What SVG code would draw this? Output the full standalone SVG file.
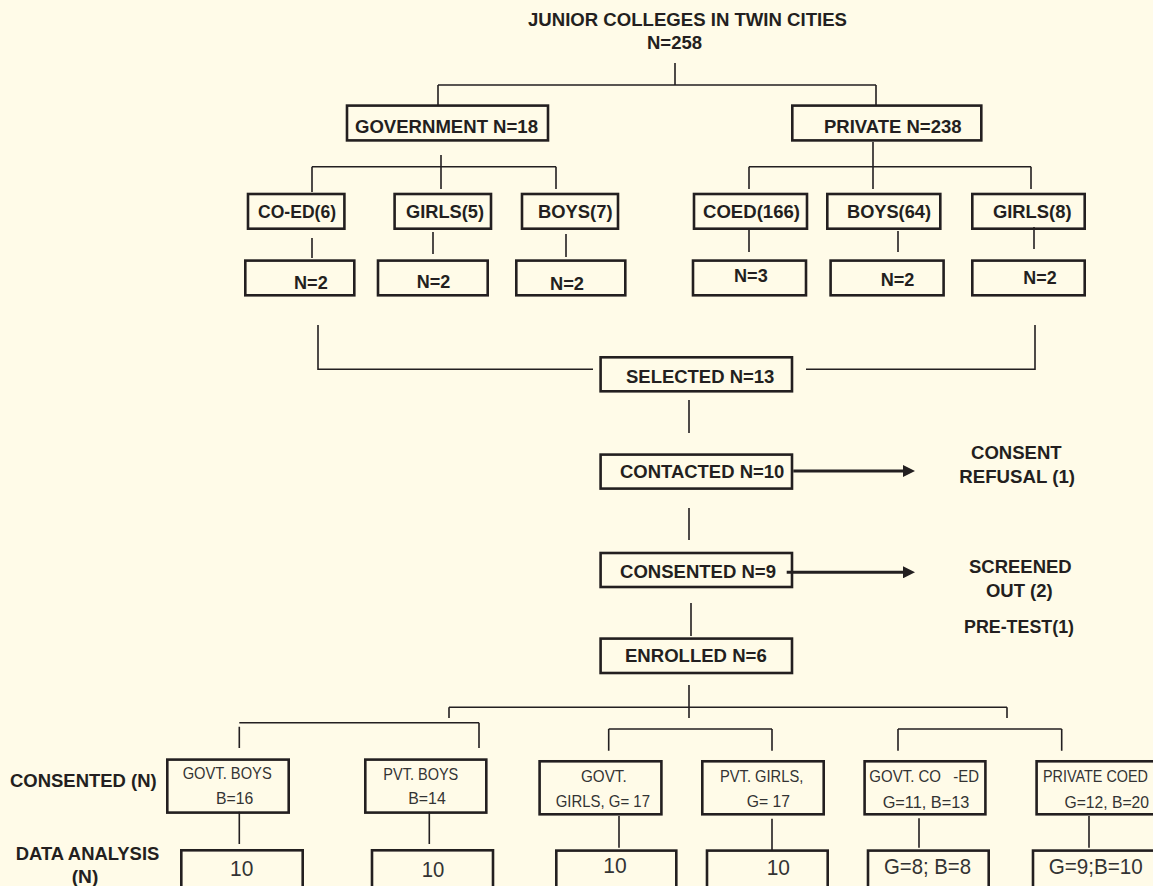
<svg xmlns="http://www.w3.org/2000/svg" width="1153" height="886" viewBox="0 0 1153 886">
  <defs>
    <style>
      .bg { fill: #fffbe8; }
      .box { fill: none; stroke: #231f20; stroke-width: 2.6; }
      .ln { fill: none; stroke: #231f20; stroke-width: 1.6; }
      .arr { fill: none; stroke: #231f20; stroke-width: 3; }
      .b { font-family: "Liberation Sans", Arial, sans-serif; font-weight: bold; font-size: 18px; fill: #231f20; }
      .r { font-family: "Liberation Sans", Arial, sans-serif; font-size: 17px; fill: #333; }
      .n { font-family: "Liberation Sans", Arial, sans-serif; font-size: 22px; fill: #333; }
    </style>
    <marker id="head" markerWidth="12" markerHeight="12" refX="0" refY="6" orient="auto" markerUnits="userSpaceOnUse">
      <path d="M0,0 L12,6 L0,12 Z" fill="#231f20"/>
    </marker>
  </defs>

  <rect class="bg" x="0" y="0" width="1153" height="886"/>

  <!-- connectors -->
  <g id="connectors">
    <path class="ln" d="M675 63 V85 M438 85 H876 M438 85 V105 M876 85 V105"/>
    <path class="ln" d="M441 155 V189 M312 166.7 H556 M312 166.7 V192 M556 166.7 V189"/>
    <path class="ln" d="M873 142 V189 M749 166.7 H1031 M749 166.7 V189 M1031 166.7 V189"/>
    <path class="ln" d="M312 238 V258 M433 232 V254 M566 234 V257 M749 230 V252 M898 231 V252 M1034 227 V249"/>
    <path class="ln" d="M318 325 V369.3 H593 M806 369.3 H1035 V325"/>
    <path class="ln" d="M689 400 V433 M689 508 V540 M691 603 V636"/>
    <path class="arr" d="M793.3 471 H903" marker-end="url(#head)"/>
    <path class="arr" d="M786.7 572.3 H903" marker-end="url(#head)"/>
    <path class="ln" d="M689 685 V718 M449 707.3 H1007 M449 707.3 V718 M1007 707.3 V718"/>
    <path class="ln" d="M239.3 722.7 H479 M239.3 726.7 V748 M479 722.7 V748"/>
    <path class="ln" d="M608.7 729 H772 M608.7 729 V750.7 M772 729 V750.7"/>
    <path class="ln" d="M898 729 H1061.7 M898 729 V750.7 M1061.7 729 V750.7"/>
    <path class="ln" d="M239.3 811.7 V844 M429.3 811.7 V844 M619 816 V847.7 M772 818.7 V850 M919 818.3 V847.7 M1089 816 V847.7"/>
  </g>

  <!-- root -->
  <g id="root">
    <text class="b" x="528" y="26" textLength="319" lengthAdjust="spacingAndGlyphs">JUNIOR COLLEGES IN TWIN CITIES</text>
    <text class="b" x="647" y="49" textLength="55" lengthAdjust="spacingAndGlyphs">N=258</text>
  </g>

  <!-- sector level -->
  <g id="government">
    <rect class="box" x="347" y="105.6" width="201" height="34.8"/>
    <text class="b" x="355" y="133" textLength="183" lengthAdjust="spacingAndGlyphs">GOVERNMENT N=18</text>
  </g>
  <g id="private">
    <rect class="box" x="792.3" y="105.6" width="189" height="34.8"/>
    <text class="b" x="824" y="133" textLength="137.5" lengthAdjust="spacingAndGlyphs">PRIVATE N=238</text>
  </g>

  <!-- college type level -->
  <g id="gov-coed">
    <rect class="box" x="248" y="194" width="96.4" height="34.7"/>
    <text class="b" x="258" y="218" textLength="78" lengthAdjust="spacingAndGlyphs">CO-ED(6)</text>
  </g>
  <g id="gov-girls">
    <rect class="box" x="394.6" y="194" width="96.4" height="34.7"/>
    <text class="b" x="406" y="218" textLength="78" lengthAdjust="spacingAndGlyphs">GIRLS(5)</text>
  </g>
  <g id="gov-boys">
    <rect class="box" x="522" y="194" width="96" height="34.7"/>
    <text class="b" x="538" y="218" textLength="74.5" lengthAdjust="spacingAndGlyphs">BOYS(7)</text>
  </g>
  <g id="pvt-coed">
    <rect class="box" x="694" y="194" width="113" height="34.7"/>
    <text class="b" x="703" y="218" textLength="97" lengthAdjust="spacingAndGlyphs">COED(166)</text>
  </g>
  <g id="pvt-boys">
    <rect class="box" x="827.3" y="194" width="113" height="34.7"/>
    <text class="b" x="847" y="218" textLength="84" lengthAdjust="spacingAndGlyphs">BOYS(64)</text>
  </g>
  <g id="pvt-girls">
    <rect class="box" x="972.3" y="194" width="112.4" height="34.7"/>
    <text class="b" x="993" y="218" textLength="78.5" lengthAdjust="spacingAndGlyphs">GIRLS(8)</text>
  </g>

  <!-- sampled counts -->
  <g id="n-gov-coed">
    <rect class="box" x="245.3" y="260.6" width="109" height="34.7"/>
    <text class="b" x="294" y="289" textLength="33.7" lengthAdjust="spacingAndGlyphs">N=2</text>
  </g>
  <g id="n-gov-girls">
    <rect class="box" x="378" y="260.6" width="109.7" height="34.7"/>
    <text class="b" x="416.7" y="288.3" textLength="33.5" lengthAdjust="spacingAndGlyphs">N=2</text>
  </g>
  <g id="n-gov-boys">
    <rect class="box" x="516.3" y="260.6" width="109" height="34.7"/>
    <text class="b" x="550" y="290" textLength="34" lengthAdjust="spacingAndGlyphs">N=2</text>
  </g>
  <g id="n-pvt-coed">
    <rect class="box" x="693" y="260.6" width="113" height="34.7"/>
    <text class="b" x="734" y="281.7" textLength="33.7" lengthAdjust="spacingAndGlyphs">N=3</text>
  </g>
  <g id="n-pvt-boys">
    <rect class="box" x="830.6" y="260.6" width="113" height="34.7"/>
    <text class="b" x="880.7" y="285.7" textLength="33.7" lengthAdjust="spacingAndGlyphs">N=2</text>
  </g>
  <g id="n-pvt-girls">
    <rect class="box" x="972.3" y="260.6" width="112.4" height="34.7"/>
    <text class="b" x="1023.3" y="284.3" textLength="33.3" lengthAdjust="spacingAndGlyphs">N=2</text>
  </g>

  <!-- recruitment flow -->
  <g id="selected">
    <rect class="box" x="600.6" y="357.3" width="191.4" height="34"/>
    <text class="b" x="626" y="382.7" textLength="148.3" lengthAdjust="spacingAndGlyphs">SELECTED N=13</text>
  </g>
  <g id="contacted">
    <rect class="box" x="600.6" y="454.6" width="191.4" height="34"/>
    <text class="b" x="620" y="477.7" textLength="164.3" lengthAdjust="spacingAndGlyphs">CONTACTED N=10</text>
  </g>
  <g id="refusal">
    <text class="b" x="971" y="459.3" textLength="90.7" lengthAdjust="spacingAndGlyphs">CONSENT</text>
    <text class="b" x="959.3" y="483.3" textLength="115.7" lengthAdjust="spacingAndGlyphs">REFUSAL (1)</text>
  </g>
  <g id="consented">
    <rect class="box" x="600.6" y="553" width="191.4" height="34"/>
    <text class="b" x="620" y="577.7" textLength="156" lengthAdjust="spacingAndGlyphs">CONSENTED N=9</text>
  </g>
  <g id="screened">
    <text class="b" x="969" y="573.3" textLength="102.7" lengthAdjust="spacingAndGlyphs">SCREENED</text>
    <text class="b" x="986" y="597.3" textLength="66.7" lengthAdjust="spacingAndGlyphs">OUT (2)</text>
    <text class="b" x="964" y="632.7" textLength="110" lengthAdjust="spacingAndGlyphs">PRE-TEST(1)</text>
  </g>
  <g id="enrolled">
    <rect class="box" x="600.6" y="638.6" width="191.4" height="34.4"/>
    <text class="b" x="625" y="661.7" textLength="141.7" lengthAdjust="spacingAndGlyphs">ENROLLED N=6</text>
  </g>

  <!-- row labels -->
  <g id="row-labels">
    <text class="b" x="10" y="786.7" textLength="146.7" lengthAdjust="spacingAndGlyphs">CONSENTED (N)</text>
    <text class="b" x="15.7" y="860" textLength="143.6" lengthAdjust="spacingAndGlyphs">DATA ANALYSIS</text>
    <text class="b" x="71.7" y="883.3" textLength="26.6" lengthAdjust="spacingAndGlyphs">(N)</text>
  </g>

  <!-- consented groups -->
  <g id="c-govt-boys">
    <rect class="box" x="167.3" y="759.6" width="121.4" height="53"/>
    <text class="r" x="182.7" y="779.3" textLength="89" lengthAdjust="spacingAndGlyphs">GOVT. BOYS</text>
    <text class="r" x="216" y="804" textLength="37.3" lengthAdjust="spacingAndGlyphs">B=16</text>
  </g>
  <g id="c-pvt-boys">
    <rect class="box" x="365.3" y="759.6" width="121" height="53"/>
    <text class="r" x="383.3" y="780" textLength="75" lengthAdjust="spacingAndGlyphs">PVT. BOYS</text>
    <text class="r" x="408.3" y="804.3" textLength="37.4" lengthAdjust="spacingAndGlyphs">B=14</text>
  </g>
  <g id="c-govt-girls">
    <rect class="box" x="539.6" y="761.3" width="121.8" height="53"/>
    <text class="r" x="581" y="782.3" textLength="45.7" lengthAdjust="spacingAndGlyphs">GOVT.</text>
    <text class="r" x="555.7" y="806.7" textLength="94.3" lengthAdjust="spacingAndGlyphs">GIRLS, G= 17</text>
  </g>
  <g id="c-pvt-girls">
    <rect class="box" x="702.3" y="761.3" width="121.4" height="53"/>
    <text class="r" x="720" y="782.3" textLength="83.3" lengthAdjust="spacingAndGlyphs">PVT. GIRLS,</text>
    <text class="r" x="746.7" y="806.7" textLength="43.3" lengthAdjust="spacingAndGlyphs">G= 17</text>
  </g>
  <g id="c-govt-coed">
    <rect class="box" x="864.6" y="761.3" width="120.8" height="53"/>
    <text class="r" y="782.3"><tspan x="869.3" textLength="71.7" lengthAdjust="spacingAndGlyphs">GOVT. CO</tspan><tspan x="953.3" textLength="25.7" lengthAdjust="spacingAndGlyphs">-ED</tspan></text>
    <text class="r" x="882.7" y="808.3" textLength="86.6" lengthAdjust="spacingAndGlyphs">G=11, B=13</text>
  </g>
  <g id="c-private-coed">
    <rect class="box" x="1036.6" y="761.3" width="130" height="53"/>
    <text class="r" x="1043" y="782.3" textLength="105" lengthAdjust="spacingAndGlyphs">PRIVATE COED</text>
    <text class="r" x="1064.5" y="808.3" textLength="84.5" lengthAdjust="spacingAndGlyphs">G=12, B=20</text>
  </g>

  <!-- analysed counts -->
  <g id="a-govt-boys">
    <rect class="box" x="181.3" y="850.3" width="121.4" height="60"/>
    <text class="n" x="230" y="876" textLength="23.3" lengthAdjust="spacingAndGlyphs">10</text>
  </g>
  <g id="a-pvt-boys">
    <rect class="box" x="372" y="850.3" width="121" height="60"/>
    <text class="n" x="421.7" y="876.7" textLength="22.6" lengthAdjust="spacingAndGlyphs">10</text>
  </g>
  <g id="a-govt-girls">
    <rect class="box" x="556.3" y="850.6" width="120" height="60"/>
    <text class="n" x="603.3" y="873.3" textLength="23.4" lengthAdjust="spacingAndGlyphs">10</text>
  </g>
  <g id="a-pvt-girls">
    <rect class="box" x="707" y="850.6" width="120.7" height="60"/>
    <text class="n" x="766.7" y="875" textLength="23.3" lengthAdjust="spacingAndGlyphs">10</text>
  </g>
  <g id="a-govt-coed">
    <rect class="box" x="868" y="850.6" width="120.7" height="60"/>
    <text class="n" x="884" y="874.3" textLength="87" lengthAdjust="spacingAndGlyphs">G=8; B=8</text>
  </g>
  <g id="a-private-coed">
    <rect class="box" x="1033" y="850.6" width="130" height="60"/>
    <text class="n" x="1048.7" y="874" textLength="94" lengthAdjust="spacingAndGlyphs">G=9;B=10</text>
  </g>
</svg>
